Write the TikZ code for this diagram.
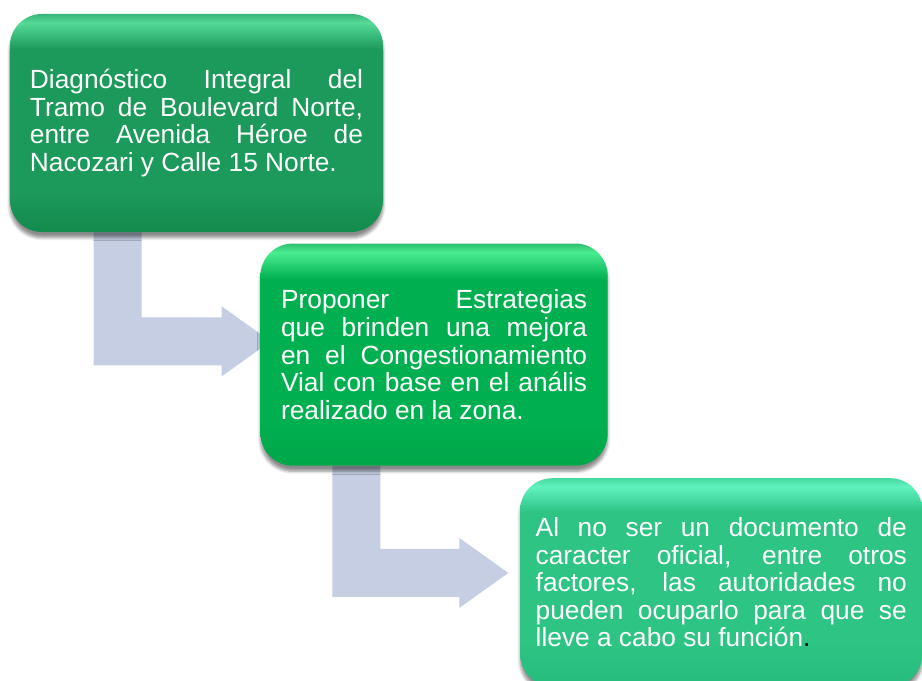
\documentclass[tikz,border=0pt]{standalone}
\usepackage{fontspec}
\setmainfont{Liberation Sans}
\usetikzlibrary{positioning,shadows.blur,backgrounds}

\definecolor{arrowblue}{HTML}{C5CEE2}
\definecolor{oneB}{HTML}{148C4E}
\definecolor{oneM}{HTML}{1C9A5B}
\definecolor{oneT}{HTML}{55DA98}
\definecolor{oneR}{HTML}{3BB577}
\definecolor{twoB}{HTML}{00A84A}
\definecolor{twoM}{HTML}{00B050}
\definecolor{twoT}{HTML}{48EC90}
\definecolor{twoR}{HTML}{30C070}
\definecolor{threeB}{HTML}{26BC7E}
\definecolor{threeM}{HTML}{2DC484}
\definecolor{threeT}{HTML}{62F2C0}
\definecolor{threeR}{HTML}{45D8A0}

\pgfdeclareverticalshading{greenone}{100bp}{color(0bp)=(oneB); color(26bp)=(oneB); color(34bp)=(oneM); color(67bp)=(oneM); color(73bp)=(oneT); color(75bp)=(oneR); color(100bp)=(oneR)}
\pgfdeclareverticalshading{greentwo}{100bp}{color(0bp)=(twoB); color(26bp)=(twoB); color(36bp)=(twoM); color(67bp)=(twoM); color(73bp)=(twoT); color(75bp)=(twoR); color(100bp)=(twoR)}
\pgfdeclareverticalshading{greenthree}{100bp}{color(0bp)=(threeR); color(25.5bp)=(threeB); color(36bp)=(threeM); color(67bp)=(threeM); color(73bp)=(threeT); color(75bp)=(threeR); color(100bp)=(threeR)}

\begin{document}
\begin{tikzpicture}[x=0.025cm,y=-0.025cm,
  paso/.style={rounded corners=0.8cm, text=white, align=justify,
    font=\fontsize{18.7}{19.6}\selectfont,
    blur shadow={shadow xshift=0pt, shadow yshift=-4pt, shadow blur steps=6, shadow opacity=45}},
  flecha/.style={fill=arrowblue}]

\useasboundingbox (0,0) rectangle (922,681);

\node[paso, shading=greenone, minimum width=9.325cm, minimum height=5.45cm, text width=8.325cm] (d1) at (196.5,123)
  {Diagnóstico Integral del\linebreak Tramo de Boulevard Norte,\linebreak entre Avenida Héroe de\linebreak Nacozari y Calle 15 Norte.};
\node[paso, shading=greentwo, minimum width=8.675cm, minimum height=5.55cm, text width=7.65cm, below right=0.275cm and -3.075cm of d1] (d2)
  {Proponer Estrategias\linebreak que brinden una mejora\linebreak en el Congestionamiento\linebreak Vial con base en el anális\linebreak realizado en la zona.};
\node[paso, shading=greenthree, minimum width=10.05cm, minimum height=5.2cm, text width=9.275cm, below right=0.3cm and -2.2cm of d2] (d3)
  {Al no ser un documento de\linebreak caracter oficial, entre otros\linebreak factores, las autoridades no\linebreak pueden ocuparlo para que se\linebreak lleve a cabo su función{\color{black}.}};

% bent arrows behind the boxes
\begin{scope}[on background layer]
\fill[flecha] (d1.south west) ++(84,0) -- ++(0,133) -- ++(128,0) -- ++(0,11) -- ++(49,-35) -- ++(-49,-35) -- ++(0,11) -- ++(-80,0) -- ++(0,-85) -- cycle;
\fill[flecha] (d2.south west) ++(72,0) -- ++(0,131) -- ++(127,0) -- ++(0,11) -- ++(49,-35) -- ++(-49,-35) -- ++(0,11) -- ++(-79,0) -- ++(0,-83) -- cycle;
\end{scope}
\end{tikzpicture}
\end{document}
